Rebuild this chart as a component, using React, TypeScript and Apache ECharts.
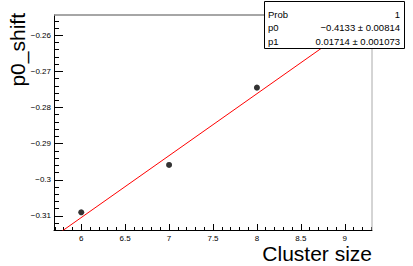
import React, { useEffect, useRef } from "react";
import * as echarts from "echarts";

const clusterSize = [6, 7, 8];
const p0Shift = [-0.309, -0.2959, -0.2745];
const fitP0 = -0.4133;
const fitP1 = 0.01714;
const xRange = [5.69, 9.31];
const yRange = [-0.3139, -0.2544];
const xMajor = [6, 6.5, 7, 7.5, 8, 8.5, 9];
const xMinor = [5.7, 5.8, 5.9, 6.1, 6.2, 6.3, 6.4, 6.6, 6.7, 6.8, 6.9, 7.1, 7.2, 7.3, 7.4, 7.6, 7.7, 7.8, 7.9, 8.1, 8.2, 8.3, 8.4, 8.6, 8.7, 8.8, 8.9, 9.1, 9.2, 9.3];
const yMajor = [-0.31, -0.3, -0.29, -0.28, -0.27, -0.26];
const yMinor = [-0.312, -0.308, -0.306, -0.304, -0.302, -0.298, -0.296, -0.294, -0.292, -0.288, -0.286, -0.284, -0.282, -0.278, -0.276, -0.274, -0.272, -0.268, -0.266, -0.264, -0.262, -0.258, -0.256];
const xTitle = "Cluster size";
const yTitle = "p0_shift";
const statRows = [
  ["Prob", "1"],
  ["p0", "−0.4133 ± 0.00814"],
  ["p1", "0.01714 ± 0.001073"],
];

const FONT = "Liberation Sans, Arial, sans-serif";

export default function App() {
  const ref = useRef<HTMLDivElement>(null);
  useEffect(() => {
    const chart = echarts.init(ref.current!, null, { renderer: "svg" });
    const fitLine = xRange.map((x) => [x, fitP0 + fitP1 * x]);
    const fmtY = (v: number) => String(+v.toFixed(2)).replace("-", "−");
    const statGraphics: any[] = [
      {
        type: "rect",
        shape: { x: 264.5, y: 1.5, width: 140, height: 47 },
        style: { fill: "#fff", stroke: "#000", lineWidth: 1 },
        z: 100,
      },
    ];
    statRows.forEach((r, i) => {
      statGraphics.push({
        type: "text",
        x: 268,
        y: 14 + i * 13.5,
        style: { text: r[0], font: `9.5px ${FONT}`, fill: "#000", verticalAlign: "middle", textAlign: "left" },
        z: 101,
      });
      statGraphics.push({
        type: "text",
        x: 400,
        y: 14 + i * 13.5,
        style: { text: r[1], font: `9.5px ${FONT}`, fill: "#000", verticalAlign: "middle", textAlign: "right" },
        z: 101,
      });
    });
    const hiddenBits = {
      axisLine: { show: false },
      axisLabel: { show: false },
      splitLine: { show: false },
    };
    chart.setOption({
      animation: false,
      backgroundColor: "#fff",
      grid: { left: 54, top: 15, right: 41, bottom: 36, containLabel: false, outerBoundsMode: "none" },
      xAxis: [
        {
          type: "value",
          min: xRange[0],
          max: xRange[1],
          position: "bottom",
          axisLine: { show: true, onZero: false, lineStyle: { color: "#000", width: 1 } },
          axisTick: { show: true, inside: true, length: 6, customValues: xMajor, lineStyle: { color: "#000" } },
          axisLabel: {
            customValues: xMajor,
            fontFamily: FONT,
            fontSize: 8,
            color: "#000",
            margin: 4,
          },
          splitLine: { show: false },
        },
        {
          type: "value",
          min: xRange[0],
          max: xRange[1],
          position: "bottom",
          ...hiddenBits,
          axisTick: { show: true, inside: true, length: 3, customValues: xMinor, lineStyle: { color: "#000" } },
        },
      ],
      yAxis: [
        {
          type: "value",
          min: yRange[0],
          max: yRange[1],
          position: "left",
          axisLine: { show: true, onZero: false, lineStyle: { color: "#000", width: 1 } },
          axisTick: { show: true, inside: true, length: 9, customValues: yMajor, lineStyle: { color: "#000" } },
          axisLabel: {
            customValues: yMajor,
            formatter: fmtY,
            fontFamily: FONT,
            fontSize: 8,
            color: "#000",
            margin: 3,
          },
          splitLine: { show: false },
        },
        {
          type: "value",
          min: yRange[0],
          max: yRange[1],
          position: "left",
          ...hiddenBits,
          axisTick: { show: true, inside: true, length: 5, customValues: yMinor, lineStyle: { color: "#000" } },
        },
      ],
      series: [
        {
          type: "line",
          data: fitLine,
          showSymbol: false,
          symbol: "none",
          lineStyle: { color: "#ff0000", width: 1 },
          clip: true,
          z: 2,
        },
        {
          type: "scatter",
          data: clusterSize.map((x, i) => [x, p0Shift[i]]),
          symbol: "circle",
          symbolSize: 6,
          itemStyle: { color: "#000" },
          z: 3,
        },
      ],
      graphic: [
        {
          type: "line",
          shape: { x1: 54, y1: 15, x2: 372, y2: 15 },
          style: { stroke: "#888", lineWidth: 1.5 },
          z: 50,
        },
        {
          type: "line",
          shape: { x1: 372, y1: 15, x2: 372, y2: 230 },
          style: { stroke: "#aaa", lineWidth: 1 },
          z: 50,
        },
        {
          type: "text",
          x: 372,
          y: 253,
          style: { text: xTitle, font: `21px ${FONT}`, fill: "#000", textAlign: "right", verticalAlign: "middle" },
          z: 60,
        },
        {
          type: "text",
          x: 17,
          y: 13,
          rotation: Math.PI / 2,
          style: { text: yTitle, font: `21px ${FONT}`, fill: "#000", textAlign: "right", verticalAlign: "middle" },
          z: 60,
        },
        ...statGraphics,
      ],
    });
    return () => chart.dispose();
  }, []);
  return <div ref={ref} style={{ width: 413, height: 266, position: "fixed", left: 0, top: 0 }} />;
}
